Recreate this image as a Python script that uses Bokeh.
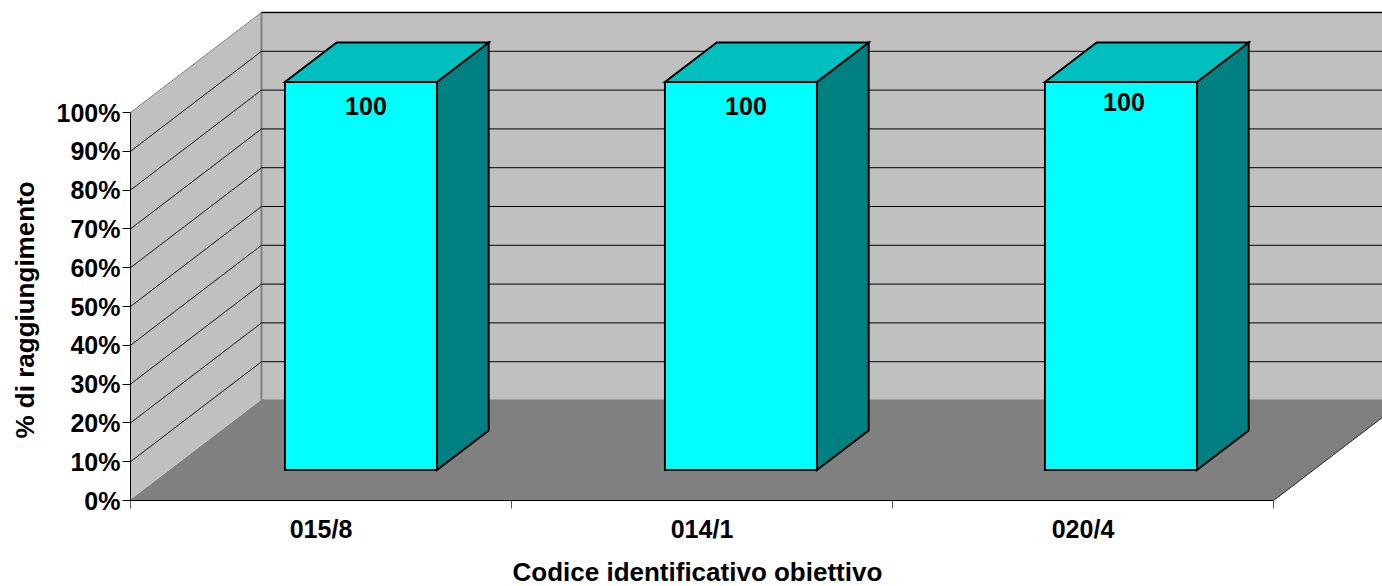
from bokeh.plotting import figure
from bokeh.models import Range1d, FixedTicker, Title, ColumnDataSource
from bokeh.core.properties import value
from bokeh.embed import file_html
from bokeh.resources import INLINE

categories = ["015/8", "014/1", "020/4"]
values = [100, 100, 100]
y_ticks = [0, 10, 20, 30, 40, 50, 60, 70, 80, 90, 100]
y_tick_labels = ["0%", "10%", "20%", "30%", "40%", "50%", "60%", "70%", "80%", "90%", "100%"]
x_title = "Codice identificativo obiettivo"
y_title = "% di raggiungimento"

# pixel scale of the drawing
PX_CAT = 381.0      # pixels per category
PX_PCT = 3.88       # pixels per percent
DEPTH_X = 131.0 / PX_CAT    # oblique projection of the full depth
DEPTH_Y = 100.0 / PX_PCT
BAR_W = 152.0 / PX_CAT
BAR_STEP = 380.0 / PX_CAT
BAR_D0, BAR_D1 = 0.305, 0.70
FRAME_W, FRAME_H = 1252, 500
FONT = value("Liberation Sans")


def proj(x, y, d):
    return x + DEPTH_X * d, y + DEPTH_Y * d


def poly(*pts):
    xy = [proj(*p) for p in pts]
    return [a for a, _ in xy], [b for _, b in xy]


def spacer(size):
    # a blank side panel that pushes the next one outwards
    return Title(text=" ", standoff=size, text_font_size="1px")


n = len(categories)
xmax = FRAME_W / PX_CAT
ymax = FRAME_H / PX_PCT
p = figure(width=1382, height=586, output_backend="svg", toolbar_location=None,
           x_range=Range1d(0, xmax), y_range=Range1d(0, ymax),
           min_border_left=130, min_border_right=0, min_border_top=0, min_border_bottom=86,
           outline_line_color=None, background_fill_color="white")
p.grid.visible = False

WALL, FLOOR, EDGE = "#C0C0C0", "#808080", "#808080"
top = max(y_ticks)
# walls and floor
x, y = poly((0, 0, 0), (0, 0, 1), (0, top, 1), (0, top, 0))
p.patch(x, y, fill_color=WALL, line_color=EDGE, line_width=1)
x, y = poly((0, 0, 1), (n + 1, 0, 1), (n + 1, top, 1), (0, top, 1))
p.patch(x, y, fill_color=WALL, line_color=EDGE, line_width=2)
x, y = poly((0, 0, 0), (n, 0, 0), (n, 0, 1), (0, 0, 1))
p.patch(x, y, fill_color=FLOOR, line_color=EDGE, line_width=1)

# grid lines on the side wall and on the back wall
grid = [v for v in y_ticks if 0 < v]
side_x, side_y, back_x, back_y = [], [], [], []
for v in grid:
    if v < top:
        a, b = poly((0, v, 0), (0, v, 1))
        side_x.append(a); side_y.append(b)
    a, b = poly((0, v, 1), (n + 1, v, 1))
    back_x.append(a); back_y.append(b)
p.multi_line(side_x, side_y, line_color="#111111", line_width=1)
p.multi_line(back_x, back_y, line_color="black", line_width=1)
x, y = poly((n, 0, 0), (n, 0, 1))
p.line(x, y, line_color="#333333", line_width=1)

# bars
bar_centers = [0.5 + i * BAR_STEP for i in range(n)]
for c, v in zip(bar_centers, values):
    l, r = c - BAR_W / 2, c + BAR_W / 2
    style = dict(line_color="black", line_width=2, line_join="miter")
    x, y = poly((r, 0, BAR_D0), (r, 0, BAR_D1), (r, v, BAR_D1), (r, v, BAR_D0))
    p.patch(x, y, fill_color="#008080", **style)
    x, y = poly((l, v, BAR_D0), (r, v, BAR_D0), (r, v, BAR_D1), (l, v, BAR_D1))
    p.patch(x, y, fill_color="#00BFBF", **style)
    x, y = poly((l, 0, BAR_D0), (r, 0, BAR_D0), (r, v, BAR_D0), (l, v, BAR_D0))
    p.patch(x, y, fill_color="#00FFFF", **style)

# value labels
pos = [proj(c, v, BAR_D0) for c, v in zip(bar_centers, values)]
src = ColumnDataSource(dict(x=[a for a, _ in pos], y=[b for _, b in pos],
                            t=[str(v) for v in values],
                            dx=[5, 5, 3], dy=[24, 24, 20]))
p.text(x="x", y="y", text="t", source=src, x_offset="dx", y_offset="dy",
       text_align="center", text_baseline="middle", text_color="black",
       text_font=FONT, text_font_style="bold", text_font_size="25px")

# axes
ya = p.yaxis[0]
ya.ticker = FixedTicker(ticks=y_ticks)
ya.major_label_overrides = {t: s for t, s in zip(y_ticks, y_tick_labels)}
ya.bounds = (min(y_ticks), max(y_ticks))
ya.axis_line_color = "black"
ya.major_tick_line_color = "black"
ya.major_tick_out = 8
ya.major_tick_in = 0
ya.minor_tick_line_color = None
ya.major_label_standoff = 2
ya.major_label_text_font = "Liberation Sans"
ya.major_label_text_font_style = "bold"
ya.major_label_text_font_size = "25px"
ya.major_label_text_color = "black"

xa = p.xaxis[0]
centers = [i + 0.5 for i in range(n)]
xa.ticker = FixedTicker(ticks=centers, minor_ticks=list(range(n + 1)))
xa.major_label_overrides = {c: s for c, s in zip(centers, categories)}
xa.bounds = (0, n)
xa.axis_line_color = "black"
xa.major_tick_line_color = None
xa.major_tick_out = 0
xa.major_tick_in = 0
xa.minor_tick_line_color = "#555555"
xa.minor_tick_out = 8
xa.minor_tick_in = 0
xa.major_label_standoff = 6
xa.major_label_text_font = "Liberation Sans"
xa.major_label_text_font_style = "bold"
xa.major_label_text_font_size = "25px"
xa.major_label_text_color = "black"

# axis titles, placed along the axes rather than centred on the frame
p.add_layout(spacer(6), "below")
p.add_layout(Title(text=x_title, align="left", offset=382, standoff=0,
                   text_font="Liberation Sans", text_font_style="bold",
                   text_font_size="26px", text_color="black"), "below")
p.add_layout(spacer(4), "left")
p.add_layout(Title(text=y_title, align="left", offset=62, standoff=14,
                   text_font="Liberation Sans", text_font_style="bold",
                   text_font_size="26px", text_color="black"), "left")

open("out.html", "w").write(file_html(p, INLINE))
